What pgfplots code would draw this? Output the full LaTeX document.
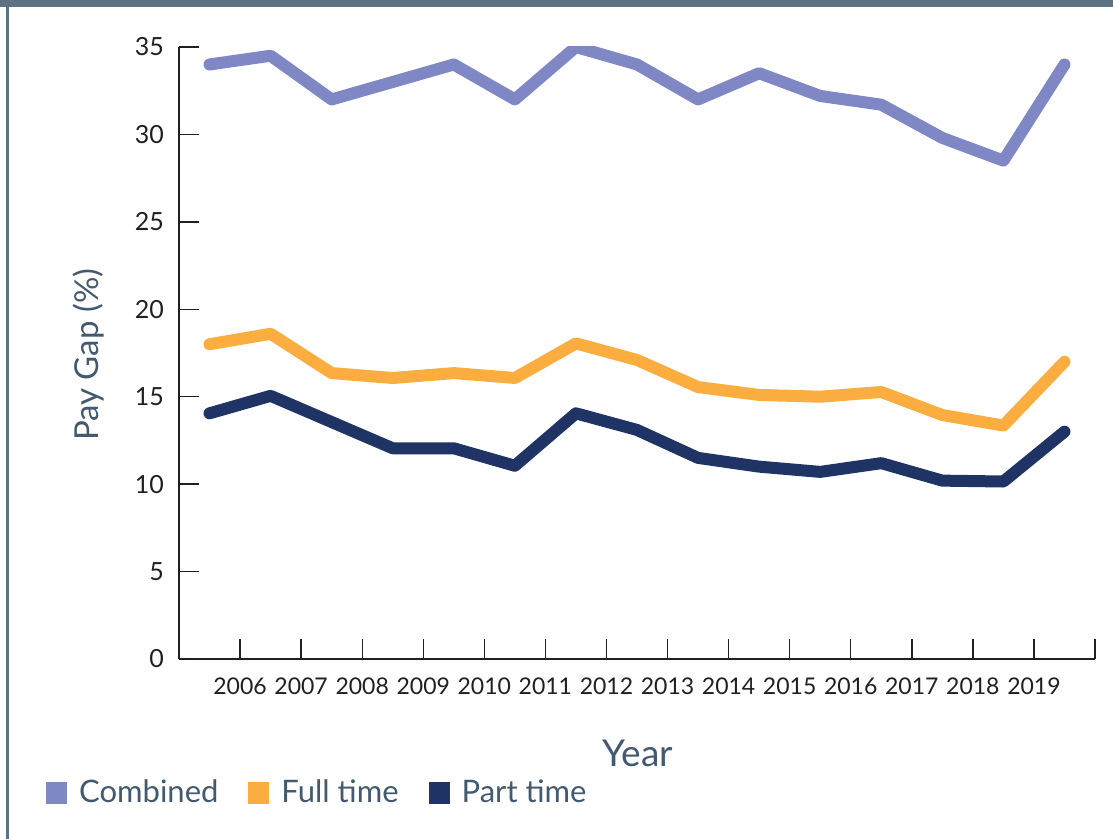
\documentclass[border=0pt]{standalone}
\usepackage{fontspec}
\setmainfont{Lato}
\usepackage{pgfplots}
\pgfplotsset{compat=1.18}
\definecolor{combined}{HTML}{7F88C4}
\definecolor{fulltime}{HTML}{FBAE3F}
\definecolor{parttime}{HTML}{1F3464}
\definecolor{slate}{HTML}{5F7282}
\definecolor{labeltext}{HTML}{42596F}
\definecolor{ticktext}{HTML}{231F20}
\begin{document}
\begin{tikzpicture}
% page frame: 1113x839 px at 0.5pt per px
\path (0,0) rectangle (556.5pt,419.5pt);
\fill[slate] (0,416pt) rectangle (556.5pt,419.5pt);
\fill[slate] (3pt,0) rectangle (4.5pt,416pt);
\begin{axis}[
    at={(89.5pt,90pt)}, anchor=south west,
    scale only axis,
    width=458pt, height=306pt,
    xmin=0, xmax=15, ymin=0, ymax=35,
    axis lines=left,
    axis line style={-, ticktext, line width=0.7pt},
    tick style={ticktext, line width=0.7pt},
    tick align=inside,
    major tick length=10pt,
    xtick={1,...,15},
    xticklabels={2006,2007,2008,2009,2010,2011,2012,2013,2014,2015,2016,2017,2018,2019,},
    ytick={0,5,...,35},
    /pgf/number format/assume math mode=true,
    xticklabel style={font=\fontsize{11.5}{13}\selectfont, text=ticktext, yshift=-6pt},
    yticklabel style={font=\fontsize{12.5}{14}\selectfont, text=ticktext, xshift=-4pt},
    xlabel={Year},
    ylabel={Pay Gap (\%)},
    every axis x label/.style={at={(rel axis cs:0.501,-0.175)}, anchor=base,
        font=\fontsize{18.5}{20}\selectfont, text=labeltext},
    every axis y label/.style={at={(rel axis cs:-0.0993,0.497)}, rotate=90, anchor=center,
        font=\fontsize{16.5}{18}\selectfont, text=labeltext},
    legend columns=3,
    legend style={at={(rel axis cs:-0.152,-0.219)}, anchor=west, draw=none, fill=none,
        font=\fontsize{15.5}{17}\selectfont, text=labeltext,
        nodes={inner xsep=6pt},
        /tikz/every even column/.append style={column sep=9pt}},
    legend image code/.code={\fill[#1, draw=none] (0pt,-5.5pt) rectangle (10.5pt,5.5pt);},
    every axis plot/.append style={line width=6pt, line join=round, line cap=round},
]
\addplot[combined] coordinates {
(0.5,34.0) (1.5,34.5) (2.5,32.0) (3.5,33.0) (4.5,34.0) (5.5,32.0) (6.5,35.0) (7.5,34.0)
(8.5,32.0) (9.5,33.5) (10.5,32.2) (11.5,31.7) (12.5,29.8) (13.5,28.5) (14.5,34.0)};
\addlegendentry{Combined}
\addplot[fulltime] coordinates {
(0.5,18.0) (1.5,18.6) (2.5,16.35) (3.5,16.07) (4.5,16.35) (5.5,16.07) (6.5,18.05) (7.5,17.1)
(8.5,15.55) (9.5,15.1) (10.5,15.0) (11.5,15.27) (12.5,13.95) (13.5,13.35) (14.5,17.0)};
\addlegendentry{Full time}
\addplot[parttime] coordinates {
(0.5,14.05) (1.5,15.05) (2.5,13.55) (3.5,12.05) (4.5,12.05) (5.5,11.05) (6.5,14.05) (7.5,13.1)
(8.5,11.5) (9.5,11.0) (10.5,10.7) (11.5,11.2) (12.5,10.2) (13.5,10.15) (14.5,13.0)};
\addlegendentry{Part time}
\end{axis}
\end{tikzpicture}
\end{document}
